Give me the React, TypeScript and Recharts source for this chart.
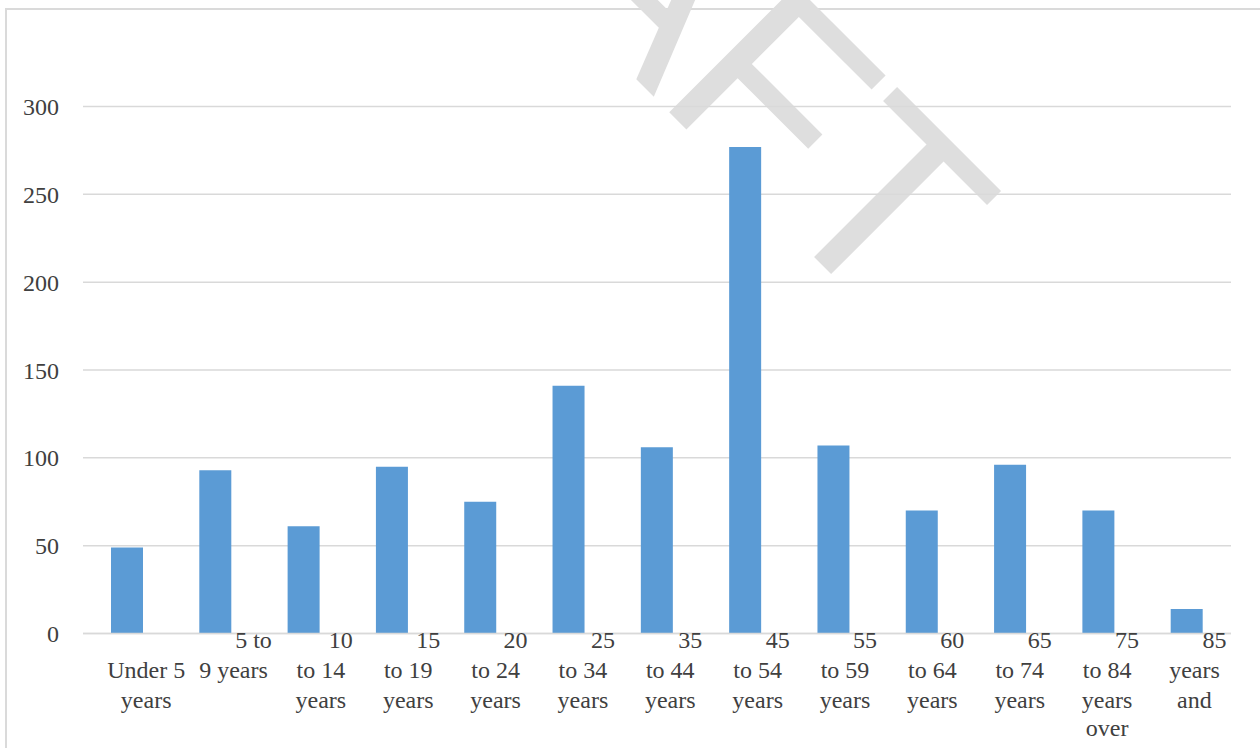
import React from "react";
import { BarChart, Bar, XAxis, YAxis, CartesianGrid } from "recharts";

const categories = [
  "Under 5 years",
  "5 to 9 years",
  "10 to 14 years",
  "15 to 19 years",
  "20 to 24 years",
  "25 to 34 years",
  "35 to 44 years",
  "45 to 54 years",
  "55 to 59 years",
  "60 to 64 years",
  "65 to 74 years",
  "75 to 84 years",
  "85 years and over",
];

const values = [49, 93, 61, 95, 75, 141, 106, 277, 107, 70, 96, 70, 14];

// wrapped label rows as they appear under each bar
const tickLines = [
  ["", "Under 5", "years"],
  ["5 to", "9 years"],
  ["10", "to 14", "years"],
  ["15", "to 19", "years"],
  ["20", "to 24", "years"],
  ["25", "to 34", "years"],
  ["35", "to 44", "years"],
  ["45", "to 54", "years"],
  ["55", "to 59", "years"],
  ["60", "to 64", "years"],
  ["65", "to 74", "years"],
  ["75", "to 84", "years", "over"],
  ["85", "years", "and"],
];

const yTicks = [0, 50, 100, 150, 200, 250, 300];

const data = categories.map((name, i) => ({ name, value: values[i] }));

const FONT = "'Liberation Serif', 'Times New Roman', serif";
const TEXT = "#404040";
const GRID = "#d9d9d9";

const rowOffsets = [14, 44, 74, 102];

const XTick = (props: any) => {
  const { x, y, index } = props;
  const lines = tickLines[index] || [];
  const cx = x + 19 - index * 0.95;
  return (
    <g>
      {lines.map((line, r) =>
        line ? (
          <text
            key={r}
            x={r === 0 ? cx + 20 : cx}
            y={y + rowOffsets[r]}
            textAnchor="middle"
            fill={TEXT}
            fontFamily={FONT}
            fontSize={24}
          >
            {line}
          </text>
        ) : null
      )}
    </g>
  );
};

const App: React.FC = () => {
  return (
    <div
      style={{
        position: "absolute",
        left: 0,
        top: 0,
        width: 1260,
        height: 748,
        overflow: "hidden",
        background: "#fff",
      }}
    >
      <div
        style={{
          position: "absolute",
          left: 5,
          top: 8,
          width: 1300,
          height: 800,
          borderTop: "2px solid #dadada",
          borderLeft: "2px solid #dadada",
        }}
      />
      <svg
        width={1260}
        height={748}
        style={{ position: "absolute", left: 0, top: 0 }}
      >
        <text
          x={0}
          y={0}
          transform="translate(266,-291) rotate(45)"
          fill="#dedede"
          fontFamily="'Liberation Sans', Arial, sans-serif"
          fontSize={260}
          style={{ fontKerning: "none" }}
        >
          DRAFT
        </text>
      </svg>
      <div style={{ position: "absolute", left: 0, top: 0 }}>
        <BarChart
          width={1260}
          height={748}
          data={data}
          margin={{ top: 18.7, right: 29, left: 0, bottom: 0 }}
        >
          <CartesianGrid
            vertical={false}
            horizontalValues={yTicks}
            stroke={GRID}
            strokeWidth={1.5}
          />
          <XAxis
            dataKey="name"
            interval={0}
            height={114.5}
            tickLine={false}
            tickSize={0}
            tickMargin={0}
            axisLine={{ stroke: GRID, strokeWidth: 1.5 }}
            tick={<XTick />}
          />
          <YAxis
            width={83}
            domain={[0, 350]}
            ticks={yTicks}
            axisLine={false}
            tickLine={false}
            tickSize={0}
            tickMargin={24}
            tick={{ fill: TEXT, fontFamily: FONT, fontSize: 24 }}
          />
          <Bar
            dataKey="value"
            fill="#5b9bd5"
            barSize={32}
            isAnimationActive={false}
          />
        </BarChart>
      </div>
    </div>
  );
};

export default App;
